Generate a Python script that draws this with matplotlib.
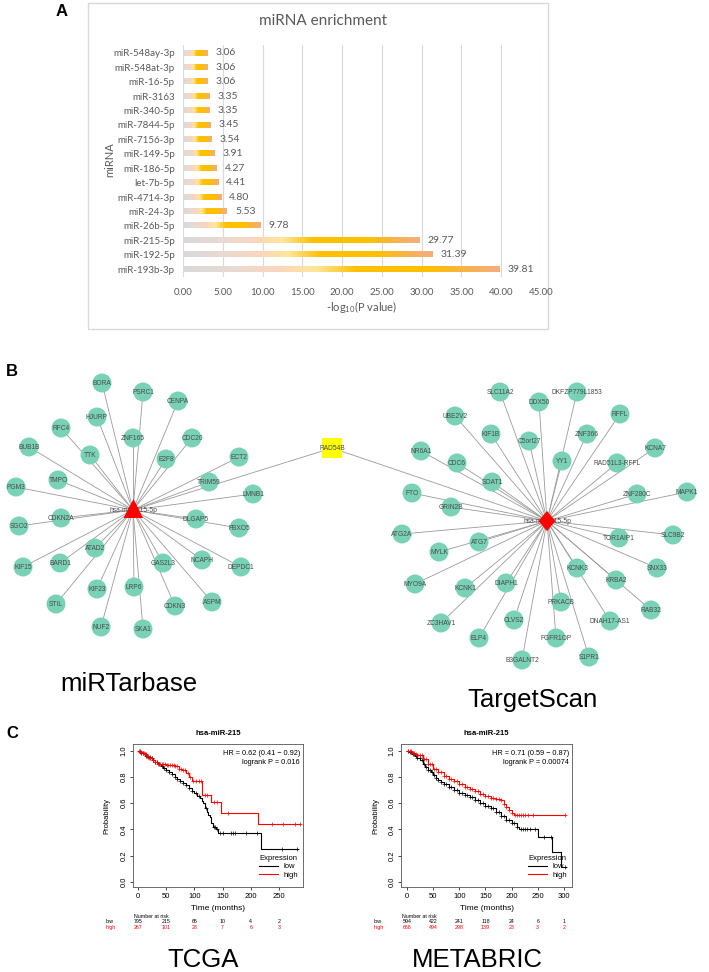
import numpy as np
import matplotlib
matplotlib.use('Agg')
import matplotlib.pyplot as plt
from matplotlib.colors import LinearSegmentedColormap
from matplotlib.patches import Circle, Polygon, Rectangle
from matplotlib.lines import Line2D

W, H = 709, 972

# ---------------- Panel A data ----------------
mirnas = ['miR-548ay-3p', 'miR-548at-3p', 'miR-16-5p', 'miR-3163', 'miR-340-5p',
          'miR-7844-5p', 'miR-7156-3p', 'miR-149-5p', 'miR-186-5p', 'let-7b-5p',
          'miR-4714-3p', 'miR-24-3p', 'miR-26b-5p', 'miR-215-5p', 'miR-192-5p',
          'miR-193b-3p']
neglog_p = [3.06, 3.06, 3.06, 3.35, 3.35, 3.45, 3.54, 3.91, 4.27, 4.41, 4.80,
            5.53, 9.78, 29.77, 31.39, 39.81]
xticks_A = [0, 5, 10, 15, 20, 25, 30, 35, 40, 45]

# ---------------- Panel B data (network layout) ----------------
center_label = 'hsa-miR-215-5p'
shared_gene = 'RAD54B'
shared_pos = (332, 448)
mirtar_center = (133, 510)
mirtar_genes = ['BORA', 'PSRC1', 'CENPA', 'HJURP', 'RFC4', 'ZNF165', 'CDC20', 'BUB1B',
                'TTK', 'E2F8', 'ECT2', 'TMPO', 'TRIM59', 'PGM3', 'LMNB1', 'CDKN2A',
                'SGO2', 'DLGAP5', 'FBXO5', 'ATAD2', 'BARD1', 'KIF15', 'GAS2L3', 'NCAPH',
                'DEPDC1', 'KIF23', 'LRP6', 'ASPM', 'STIL', 'CDKN3', 'NUF2', 'SKA1']
mirtar_x = [102, 143, 178, 97, 61, 133, 192, 29, 90, 166, 239, 58, 209, 16, 253, 61,
            19, 196, 239, 95, 60, 23, 163, 202, 241, 97, 134, 212, 56, 175, 101, 143]
mirtar_y = [383, 392, 401, 417, 428, 438, 438, 447, 455, 459, 457, 480, 482, 487, 494, 518,
            526, 519, 528, 548, 563, 567, 563, 560, 567, 589, 587, 602, 604, 606, 627, 629]
ts_center = (547, 521)
ts_genes = ['SLC11A2', 'DKFZP779L1853', 'DDX50', 'RFFL', 'UBE2V2', 'KIF1B', 'ZNF366',
            'C5orf27', 'KCNA7', 'NR6A1', 'YY1', 'RAD51L3-RFFL', 'CDC6', 'SOAT1', 'FTO',
            'MAPK1', 'ZNF280C', 'GRIN2B', 'ATG2A', 'SLC9B2', 'TOR1AIP1', 'ATG7', 'MYLK',
            'SNX33', 'KCNK3', 'MYO9A', 'KCNK1', 'DIAPH1', 'KRBA2', 'PRKACB', 'RAB32',
            'ZC3HAV1', 'CLVS2', 'DNAH17-AS1', 'ELP4', 'FGFR1OP', 'S1PR1', 'B3GALNT2']
ts_x = [500, 577, 539, 620, 455, 491, 587, 529, 655, 421, 562, 617, 457, 492, 412,
        687, 637, 451, 402, 673, 619, 479, 439, 657, 577, 415, 465, 506, 616, 561, 651,
        441, 514, 610, 479, 556, 589, 522]
ts_y = [392, 392, 402, 414, 416, 434, 434, 441, 448, 451, 461, 463, 463, 482, 493,
        492, 494, 507, 534, 535, 538, 542, 552, 568, 568, 584, 588, 583, 580, 602, 610,
        623, 620, 621, 638, 638, 657, 660]

# ---------------- Panel C data (Kaplan-Meier) ----------------
tcga_low_t = [0, 3, 6, 10, 14, 18, 22, 26, 30, 35, 40, 45, 50, 55, 60, 65, 70, 75, 80,
              85, 90, 95, 100, 105, 110, 113, 116, 119, 122, 125, 128, 130, 133, 138, 142, 218]
tcga_low_s = [1.0, 0.995, 0.985, 0.975, 0.962, 0.95, 0.94, 0.928, 0.915, 0.9, 0.885,
              0.87, 0.852, 0.835, 0.82, 0.80, 0.785, 0.77, 0.755, 0.735, 0.715, 0.695,
              0.675, 0.655, 0.635, 0.615, 0.60, 0.565, 0.53, 0.51, 0.49, 0.45, 0.42, 0.40,
              0.375, 0.252]
tcga_low_end = 284
tcga_low_cens = [3, 6, 9, 12, 15, 18, 21, 24, 27, 30, 34, 38, 42, 46, 50, 55, 60, 65, 70,
                 75, 80, 85, 90, 96, 102, 108, 120, 134, 137, 140, 146, 150, 165, 168, 172,
                 192, 211, 255, 282]
tcga_high_t = [0, 4, 8, 12, 16, 20, 25, 30, 35, 50, 65, 72, 78, 85, 90, 96, 114, 130, 147, 213]
tcga_high_s = [1.0, 0.99, 0.98, 0.97, 0.955, 0.94, 0.925, 0.91, 0.895, 0.89, 0.88,
               0.86, 0.85, 0.83, 0.80, 0.765, 0.665, 0.605, 0.525, 0.44]
tcga_high_end = 287
tcga_high_cens = [2, 4, 6, 8, 10, 12, 14, 16, 18, 20, 22, 24, 27, 30, 33, 36, 39, 42, 45,
                  48, 51, 54, 57, 60, 63, 66, 69, 72, 76, 80, 84, 88, 92, 98, 103, 108, 112,
                  118, 122, 135, 140, 160, 237, 258, 278, 287]

meta_low_t = [0, 5, 10, 15, 20, 25, 30, 35, 40, 45, 50, 55, 60, 65, 70, 80, 90, 100, 110,
              120, 130, 140, 150, 160, 170, 180, 190, 200, 210, 215, 250, 278, 294]
meta_low_s = [1.0, 0.99, 0.975, 0.96, 0.945, 0.925, 0.9, 0.875, 0.855, 0.835, 0.81, 0.79,
              0.775, 0.76, 0.745, 0.72, 0.70, 0.68, 0.66, 0.645, 0.62, 0.60, 0.58, 0.56,
              0.535, 0.50, 0.47, 0.445, 0.42, 0.405, 0.34, 0.225, 0.11]
meta_low_end = 304
meta_low_cens = [2, 5, 8, 11, 14, 17, 20, 24, 28, 32, 36, 40, 44, 48, 52, 56, 60, 65, 70,
                 75, 80, 85, 90, 95, 100, 105, 110, 115, 120, 125, 130, 135, 140, 145, 150,
                 155, 160, 165, 170, 175, 180, 185, 190, 195, 200, 205, 210, 218, 222, 226,
                 230, 236, 245, 262, 276, 303]
meta_high_t = [0, 5, 10, 15, 20, 30, 40, 50, 60, 70, 80, 90, 100, 110, 120, 130, 140,
               150, 160, 170, 180, 185, 190, 195, 200, 205]
meta_high_s = [1.0, 0.995, 0.985, 0.975, 0.965, 0.935, 0.895, 0.86, 0.835, 0.805, 0.785,
               0.765, 0.745, 0.725, 0.71, 0.69, 0.67, 0.655, 0.64, 0.63, 0.62, 0.59, 0.57,
               0.545, 0.525, 0.51]
meta_high_end = 303
meta_high_cens = [2, 5, 8, 11, 14, 17, 20, 24, 28, 32, 36, 40, 44, 48, 52, 56, 60, 65, 70,
                  75, 80, 85, 90, 95, 100, 105, 110, 115, 120, 125, 130, 135, 140, 145, 150,
                  155, 160, 165, 170, 175, 180, 185, 190, 195, 200, 207, 210, 214, 218, 222,
                  226, 232, 240, 302]

risk_times_tcga = [0, 50, 100, 150, 200, 250]
risk_low_tcga = [795, 215, 65, 10, 4, 2]
risk_high_tcga = [267, 101, 28, 7, 6, 3]
risk_times_meta = [0, 50, 100, 150, 200, 250, 300]
risk_low_meta = [594, 422, 241, 118, 24, 6, 1]
risk_high_meta = [668, 494, 298, 139, 23, 3, 2]
hr_tcga = ['HR = 0.62 (0.41 \u2212 0.92)', 'logrank P = 0.016']
hr_meta = ['HR = 0.71 (0.59 \u2212 0.87)', 'logrank P = 0.00074']

# ---------------- figure ----------------
fig = plt.figure(figsize=(W / 100, H / 100), dpi=100)
fig.patch.set_facecolor('white')

def rect(x0, y0, x1, y1):
    return [x0 / W, 1 - y1 / H, (x1 - x0) / W, (y1 - y0) / H]

# overlay axes in pixel coordinates
ov = fig.add_axes([0, 0, 1, 1])
ov.set_xlim(0, W)
ov.set_ylim(H, 0)
ov.axis('off')

ARIAL = ['Liberation Sans', 'DejaVu Sans']
GRAYTXT = '#595959'

# panel letters
for letter, (lx, ly) in zip('ABC', [(62, 12), (12, 371), (12, 733)]):
    ov.text(lx, ly, letter, fontsize=12, fontweight='bold', family=ARIAL,
            ha='center', va='center')

# ---------------- Panel A ----------------
ov.add_patch(Rectangle((88, 3), 460, 326, fill=False, edgecolor='#D9D9D9', lw=1))
ov.text(323, 21, 'miRNA enrichment', fontsize=11, color=GRAYTXT, family=['Lato', 'DejaVu Sans'],
        ha='center', va='center')

axA = fig.add_axes(rect(183, 45, 541, 277))
axA.set_facecolor('none')
grad_cmap = LinearSegmentedColormap.from_list('bar', [
    (0.0, '#D9D9D9'), (0.15, '#E8DAD3'), (0.3, '#FAD5BE'), (0.42, '#FFE699'),
    (0.55, '#FFC000'), (0.78, '#FFC000'), (0.9, '#F8B24E'), (1.0, '#F4AE7E')])
grad = grad_cmap(np.linspace(0, 1, 256))[np.newaxis, :, :3]
bh = 0.36
for i, v in enumerate(neglog_p):
    axA.imshow(grad, extent=(0, v, i + bh / 2, i - bh / 2), aspect='auto',
               interpolation='bilinear', zorder=2)
    axA.text(v + 1.0, i, f'{v:.2f}', fontsize=7.5, color=GRAYTXT, va='center', ha='left',
             family=['Lato', 'DejaVu Sans'])
axA.set_xlim(0, 45)
axA.set_ylim(15.55, -0.55)
axA.set_aspect('auto')
axA.set_xticks(xticks_A)
axA.set_xticklabels([f'{t:.2f}' for t in xticks_A])
axA.set_yticks(range(len(mirnas)))
axA.set_yticklabels(mirnas)
axA.grid(axis='x', color='#D9D9D9', lw=0.8, zorder=0)
axA.set_axisbelow(True)
for sp in axA.spines.values():
    sp.set_visible(False)
axA.tick_params(length=0, labelsize=7, labelcolor=GRAYTXT, pad=6)
for lab in axA.get_xticklabels() + axA.get_yticklabels():
    lab.set_family(['Lato', 'DejaVu Sans'])
axA.tick_params(axis='x', pad=8)
ov.text(362, 307, r'-log$_{\mathregular{10}}$(P value)', fontsize=8, color=GRAYTXT,
        ha='center', va='center', family=['Lato', 'DejaVu Sans'])
ov.text(110, 160, 'miRNA', fontsize=8, color=GRAYTXT, rotation=90, ha='center', va='center',
        family=['Lato', 'DejaVu Sans'])

# ---------------- Panel B ----------------
NODE = '#79D2B5'
EDGE = '#9A9A9A'
LBL = '#4A4A4A'
r_node = 9.5

def draw_network(cx, cy, genes, xs, ys):
    for gx, gy in zip(xs, ys):
        ov.plot([cx, gx], [cy, gy], color=EDGE, lw=0.6, zorder=1)
    ov.plot([cx, shared_pos[0]], [cy, shared_pos[1]], color=EDGE, lw=0.6, zorder=1)
    for g, gx, gy in zip(genes, xs, ys):
        ov.add_patch(Circle((gx, gy), r_node, facecolor=NODE, edgecolor='none', zorder=2))
        ov.text(gx, gy, g, fontsize=4.8, color=LBL, ha='center', va='center',
                family=ARIAL, zorder=3)
    ov.text(cx, cy, center_label, fontsize=4.8, color=LBL, ha='center', va='center',
            family=ARIAL, zorder=3)

draw_network(mirtar_center[0], mirtar_center[1], mirtar_genes, mirtar_x, mirtar_y)
draw_network(ts_center[0], ts_center[1], ts_genes, ts_x, ts_y)

cx, cy = mirtar_center
ov.add_patch(Polygon([(cx + 0.5, cy - 11), (cx - 9.5, cy + 8), (cx + 10, cy + 8)],
                     closed=True, facecolor='#FF0000', edgecolor='none', zorder=4))
cx, cy = ts_center
ov.add_patch(Polygon([(cx, cy - 10), (cx + 8.5, cy), (cx, cy + 10), (cx - 8.5, cy)],
                     closed=True, facecolor='#FF0000', edgecolor='none', zorder=4))
ov.add_patch(Rectangle((shared_pos[0] - 10, shared_pos[1] - 10), 20, 20,
                       facecolor='#FFFF00', edgecolor='none', zorder=2))
ov.text(shared_pos[0], shared_pos[1], shared_gene, fontsize=4.8, color=LBL, ha='center',
        va='center', family=ARIAL, zorder=3)

ov.text(129, 691, 'miRTarbase', fontsize=18.5, family=ARIAL, ha='center', va='baseline')
ov.text(532, 707, 'TargetScan', fontsize=18.5, family=ARIAL, ha='center', va='baseline')

# ---------------- Panel C ----------------
def km_panel(box, xlim, xticks, curves, risk_t, risk_low, risk_high, hr, title_x, label_x):
    ax = fig.add_axes(rect(*box))
    ax.set_xlim(*xlim)
    ax.set_ylim(-0.04, 1.05)
    for t, s, t_end, cens, col in curves:
        tt = list(t) + [t_end]
        ss = list(s) + [s[-1]]
        ax.step(tt, ss, where='post', color=col, lw=0.8)
        idx = np.searchsorted(t, cens, side='right') - 1
        ax.plot(cens, np.array(s)[idx], '+', color=col, ms=3, mew=0.5, ls='none')
    ax.set_xticks(xticks)
    ax.set_yticks([0, 0.2, 0.4, 0.6, 0.8, 1.0])
    ax.set_yticklabels(['0.0', '0.2', '0.4', '0.6', '0.8', '1.0'])
    ax.tick_params(direction='out', length=2.5, width=0.5, labelsize=5.5, pad=1.5)
    ax.tick_params(axis='y', labelrotation=90)
    for lab in ax.get_yticklabels():
        lab.set_va('center')
    for lab in ax.get_xticklabels() + ax.get_yticklabels():
        lab.set_family(ARIAL)
    for sp in ax.spines.values():
        sp.set_linewidth(0.6)
        sp.set_color('#555555')
    bh_ = box[3] - box[1]
    ax.text(0.5, -(908 - box[3]) / bh_, 'Time (months)', transform=ax.transAxes, fontsize=6,
            family=ARIAL, ha='center', va='center')
    ax.text((label_x - box[0]) / (box[2] - box[0]), 0.5, 'Probability', transform=ax.transAxes,
            fontsize=5.5, family=ARIAL, rotation=90, ha='center', va='center')
    ax.text(0.5, (box[3] - 733) / bh_, 'hsa-miR-215', transform=ax.transAxes, fontsize=5.5,
            fontweight='bold', family=ARIAL, ha='center', va='center')
    ax.text(1 - 3 / (box[2] - box[0]), (box[3] - 753) / bh_, hr[0], transform=ax.transAxes,
            fontsize=5.3, family=ARIAL, ha='right', va='center')
    ax.text(1 - 3 / (box[2] - box[0]), (box[3] - 762) / bh_, hr[1], transform=ax.transAxes,
            fontsize=5.3, family=ARIAL, ha='right', va='center')
    # legend
    handles = [Line2D([], [], color='black', lw=0.8), Line2D([], [], color='red', lw=0.8)]
    leg = ax.legend(handles, ['low', 'high'], title='Expression', loc='lower right',
                    bbox_to_anchor=(1.0, 0.02), frameon=False, fontsize=5.5,
                    title_fontsize=5.5, handlelength=2.6, labelspacing=0.15,
                    borderaxespad=0.3, handletextpad=0.6)
    for txt in leg.get_texts():
        txt.set_family(ARIAL)
    leg.get_title().set_family(ARIAL)
    # number at risk
    tr = ax.get_xaxis_transform()
    ax.text(xlim[0] + 1, -(916 - box[3]) / bh_, 'Number at risk', transform=tr, fontsize=3.8,
            family=ARIAL, ha='left', va='center', clip_on=False)
    lx = xlim[0] - 27 / ((box[2] - box[0]) / (xlim[1] - xlim[0]))
    ax.text(lx, -(921.5 - box[3]) / bh_, 'low', transform=tr, fontsize=3.8, family=ARIAL,
            ha='left', va='center')
    ax.text(lx, -(927.5 - box[3]) / bh_, 'high', transform=tr, fontsize=3.8, family=ARIAL,
            ha='left', va='center', color='red')
    for t, nl, nh in zip(risk_t, risk_low, risk_high):
        ax.text(t, -(921.5 - box[3]) / bh_, str(nl), transform=tr, fontsize=3.8, family=ARIAL,
                ha='center', va='center')
        ax.text(t, -(927.5 - box[3]) / bh_, str(nh), transform=tr, fontsize=3.8, family=ARIAL,
                ha='center', va='center', color='red')
    return ax

km_panel((133, 744, 303, 887), (-8.9, 292.6), [0, 50, 100, 150, 200, 250],
         [(tcga_low_t, tcga_low_s, tcga_low_end, tcga_low_cens, 'black'),
          (tcga_high_t, tcga_high_s, tcga_high_end, tcga_high_cens, 'red')],
         risk_times_tcga, risk_low_tcga, risk_high_tcga, hr_tcga, 218, 107)
km_panel((401, 744, 572, 887), (-11.5, 315.5), [0, 50, 100, 150, 200, 250, 300],
         [(meta_low_t, meta_low_s, meta_low_end, meta_low_cens, 'black'),
          (meta_high_t, meta_high_s, meta_high_end, meta_high_cens, 'red')],
         risk_times_meta, risk_low_meta, risk_high_meta, hr_meta, 486, 376)

ov.text(203, 967, 'TCGA', fontsize=18.5, family=ARIAL, ha='center', va='baseline')
ov.text(477, 967, 'METABRIC', fontsize=18.5, family=ARIAL, ha='center', va='baseline')

fig.savefig('out.png', dpi=100)
